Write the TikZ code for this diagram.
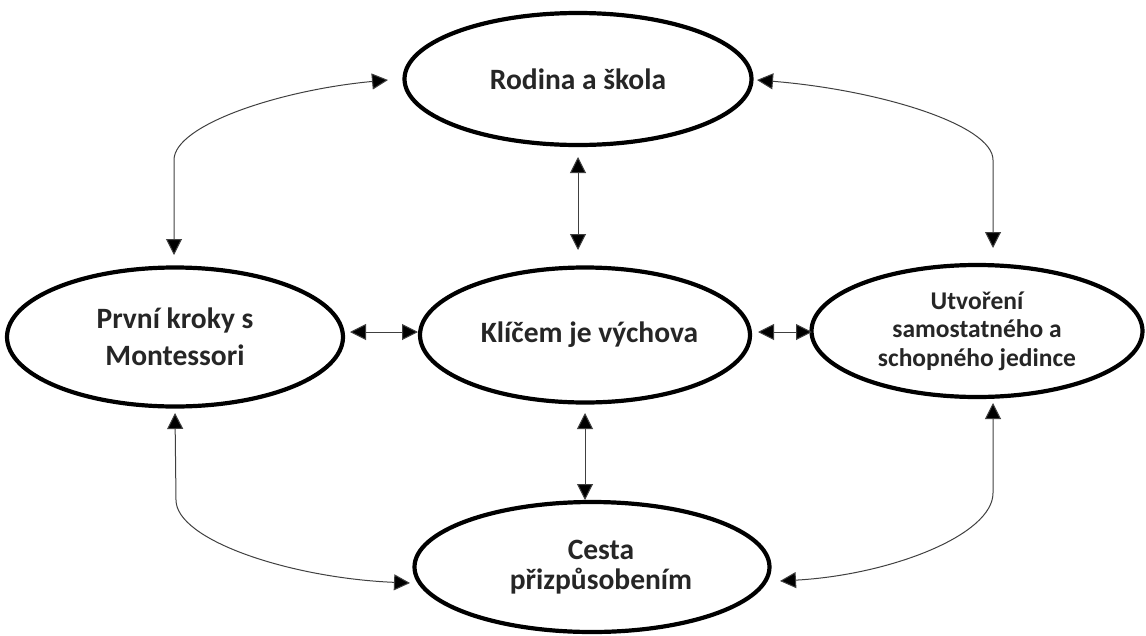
\documentclass[tikz,border=0pt]{standalone}
\usepackage{fontspec}
\setmainfont{Carlito}
\usetikzlibrary{shapes.geometric,arrows.meta}
\definecolor{txt}{HTML}{262626}
\definecolor{ln}{HTML}{404040}
\tikzset{
  oval/.style={ellipse, draw=black, line width=4.2pt, inner sep=0pt, fill=white,
    text=txt, align=center, font=\bfseries\fontsize{29.5}{30}\selectfont},
  conn/.style={draw=ln, line width=1pt, {Triangle[length=16pt,width=16pt,fill=black]}-{Triangle[length=16pt,width=16pt,fill=black]}},
}
\begin{document}
\begin{tikzpicture}[x=1pt,y=-1pt]
\useasboundingbox (0,0) rectangle (1146,635);
\node[oval, minimum width=347pt, minimum height=132pt] (top) at (578,79) {Rodina a škola};
\node[oval, minimum width=330pt, minimum height=135pt] (mid) at (585,335) {\hspace*{9pt}Klíčem je výchova};
\node[oval, minimum width=336pt, minimum height=139pt, font=\bfseries\fontsize{29.5}{37}\selectfont] (left) at (175,337) {První kroky s\\Montessori};
\node[oval, minimum width=331pt, minimum height=132pt, font=\bfseries\fontsize{25.5}{28.5}\selectfont] (right) at (977,331) {Utvoření\\samostatného a\\schopného jedince};
\node[oval, minimum width=355pt, minimum height=130pt] (bot) at (592,567) {\hspace*{18pt}Cesta\\\hspace*{18pt}přizpůsobením};

% connection points
\coordinate (tl1) at (388,80);
\coordinate (tl2) at (174,255);
\coordinate (tr1) at (757,80);
\coordinate (tr2) at (993,248);
\coordinate (bl1) at (175,413);
\coordinate (bl2) at (410,583);
\coordinate (br1) at (993,403);
\coordinate (br2) at (780,581);
\coordinate (v1a) at (578,157);
\coordinate (v1b) at (578,250);
\coordinate (v2a) at (585,413);
\coordinate (v2b) at (585,500);
\coordinate (h1a) at (350,332);
\coordinate (h1b) at (418,332);
\coordinate (h2a) at (758,332);
\coordinate (h2b) at (812,332);

\draw[conn] (v1a) -- (v1b);
\draw[conn] (v2a) -- (v2b);
\draw[conn] (h1a) -- (h1b);
\draw[conn] (h2a) -- (h2b);
\draw[conn] (tl1) .. controls (280,90) and (174,125) .. (174,160) -- (tl2);
\draw[conn] (tr1) .. controls (880,90) and (993,125) .. (993,160) -- (tr2);
\draw[conn] (bl1) -- (176,500) .. controls (176,540) and (290,578) .. (bl2);
\draw[conn] (br1) -- (993,493) .. controls (993,535) and (890,575) .. (br2);
\end{tikzpicture}
\end{document}
